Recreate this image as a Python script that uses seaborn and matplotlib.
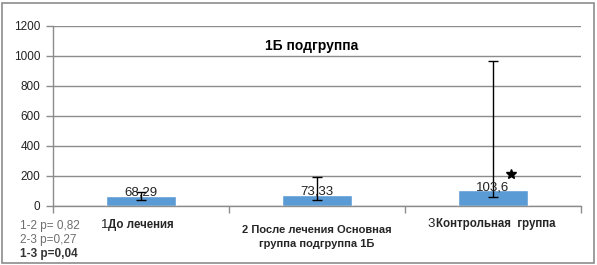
import matplotlib
matplotlib.use("Agg")
import matplotlib.pyplot as plt
import seaborn as sns
import pandas as pd
import numpy as np

categories = ["1До лечения", "2 После лечения Основная\nгруппа подгруппа 1Б", "3Контрольная  группа"]
values = [68.29, 73.33, 103.6]
value_labels = ["68,29", "73,33", "103,6"]
err_low = [38, 38, 58]
err_high = [93, 191, 967]
y_ticks = [0, 200, 400, 600, 800, 1000, 1200]
title = "1Б подгруппа"
p_notes = ["1-2 р= 0,82", "2-3 р=0,27", "1-3 р=0,04"]
star_value = 213

sns.set_theme(style="white")
plt.rcParams['font.family'] = ['Liberation Sans', 'DejaVu Sans']

W, H = 597, 265
fig = plt.figure(figsize=(W / 100, H / 100), dpi=100)
ax = fig.add_axes([53 / W, 1 - 206 / H, (581 - 53) / W, (206 - 26) / H])

df = pd.DataFrame({"cat": categories, "val": values})
sns.barplot(data=df, x="cat", y="val", color="#5B9BD5", saturation=1, width=0.4, ax=ax, errorbar=None)

x = np.arange(len(values))
vals = np.array(values)
ax.errorbar(x, vals, yerr=[vals - np.array(err_low), np.array(err_high) - vals],
            fmt="none", ecolor="black", elinewidth=1, capsize=3.5, capthick=1, zorder=5)

for xi, v, lab in zip(x, values, value_labels):
    ax.text(xi, v + 22, lab, ha="center", va="center", fontsize=9.5, color="#222222", zorder=6)

ax.plot([2.1], [star_value], marker="*", color="black", markersize=7, zorder=6)

ax.set_ylim(0, 1200)
ax.set_xlim(-0.5, 2.5)
ax.set_yticks(y_ticks)
ax.set_yticklabels([str(t) for t in y_ticks], fontsize=8.5, color="#222222")
ax.yaxis.grid(True, color="#8c8c8c", linewidth=1)
ax.set_axisbelow(True)
ax.set_xticks([-0.5, 0.5, 1.5, 2.5])
ax.set_xticklabels([])
ax.tick_params(axis="x", direction="out", length=5, color="#8c8c8c", width=1, bottom=True)
ax.tick_params(axis="y", direction="out", length=5, color="#8c8c8c", width=1, left=True, pad=4)
ax.set_xlabel("")
ax.set_ylabel("")
for s in ["top", "right"]:
    ax.spines[s].set_visible(False)
for s in ["left", "bottom"]:
    ax.spines[s].set_color("#8c8c8c")
    ax.spines[s].set_linewidth(1)

ax.text(0.49, 0.89, title, transform=ax.transAxes, ha="center", va="center",
        fontsize=10, fontweight="bold", color="black")

# category labels (leading digit drawn in regular weight, slightly larger)
fig.text(101 / W, 1 - 225 / H, categories[0][0], ha="left", va="center", fontsize=9.5, color="#222222")
fig.text(108 / W, 1 - 225 / H, categories[0][1:], ha="left", va="center", fontsize=8.3, fontweight="bold")
fig.text(317 / W, 1 - 237 / H, categories[1], ha="center", va="center", fontsize=8,
         fontweight="bold", linespacing=1.6)
fig.text(427 / W, 1 - 224 / H, categories[2][0], ha="left", va="center", fontsize=9.5, color="#222222")
fig.text(436 / W, 1 - 224 / H, categories[2][1:], ha="left", va="center", fontsize=8.3, fontweight="bold")

note_colors = ["#6e6e6e", "#6e6e6e", "#333333"]
note_weights = ["normal", "normal", "bold"]
for i, (n, c, w) in enumerate(zip(p_notes, note_colors, note_weights)):
    fig.text(20 / W, 1 - (226.5 + 13.7 * i) / H, n, ha="left", va="center", fontsize=8.5, color=c, fontweight=w)

# outer frame
frame = plt.Rectangle((2 / W, 2 / H), (W - 5) / W, (H - 5) / H, transform=fig.transFigure,
                      fill=False, edgecolor="#8c8c8c", linewidth=1.2)
fig.patches.append(frame)

fig.savefig("out.png", dpi=100)
